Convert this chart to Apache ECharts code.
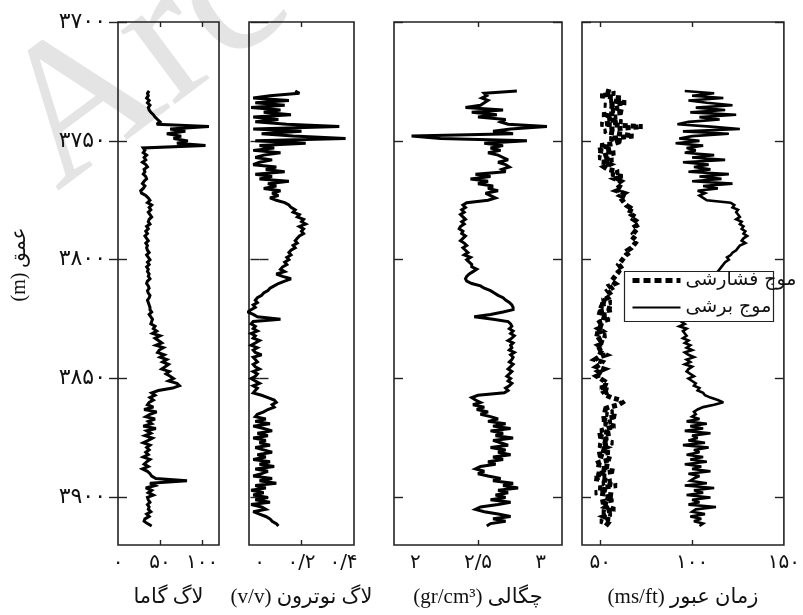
<!DOCTYPE html>
<html><head><meta charset="utf-8">
<script src="https://cdn.jsdelivr.net/npm/echarts@6/dist/echarts.min.js"></script>
<style>html,body{margin:0;padding:0;background:#fff}#c{width:803px;height:615px}</style>
</head><body><div id="c"></div>
<script>
// ---- data (depth in m, sampled every 1 m) ----
const depth = [
3729,3730,3731,3732,3733,3734,3735,3736,3737,3738,
3739,3740,3741,3742,3743,3744,3745,3746,3747,3748,
3749,3750,3751,3752,3753,3754,3755,3756,3757,3758,
3759,3760,3761,3762,3763,3764,3765,3766,3767,3768,
3769,3770,3771,3772,3773,3774,3775,3776,3777,3778,
3779,3780,3781,3782,3783,3784,3785,3786,3787,3788,
3789,3790,3791,3792,3793,3794,3795,3796,3797,3798,
3799,3800,3801,3802,3803,3804,3805,3806,3807,3808,
3809,3810,3811,3812,3813,3814,3815,3816,3817,3818,
3819,3820,3821,3822,3823,3824,3825,3826,3827,3828,
3829,3830,3831,3832,3833,3834,3835,3836,3837,3838,
3839,3840,3841,3842,3843,3844,3845,3846,3847,3848,
3849,3850,3851,3852,3853,3854,3855,3856,3857,3858,
3859,3860,3861,3862,3863,3864,3865,3866,3867,3868,
3869,3870,3871,3872,3873,3874,3875,3876,3877,3878,
3879,3880,3881,3882,3883,3884,3885,3886,3887,3888,
3889,3890,3891,3892,3893,3894,3895,3896,3897,3898,
3899,3900,3901,3902,3903,3904,3905,3906,3907,3908,
3909,3910,3911,3912];

const gammaRay = [
37,35,36,34,37,35,38,36,37,39,
42,44,47,50,46,108,62,80,58,75,66,83,70,104,30,
32,30,34,31,33,29,33,35,31,32,30,33,34,31,29,32,30,
27,28,33,
36,38,35,40,37,39,36,38,40,37,36,38,
34,36,33,35,32,34,36,33,35,34,
35,37,34,36,38,35,37,34,36,35,37,36,38,35,34,36,37,35,36,38,37,35,36,37,38,
38,40,37,39,41,40,39,
44,
42,46,41,50,44,48,52,45,54,49,47,
55,50,58,53,60,56,52,61,57,
62,66,60,70,73,65,48,
40,44,38,42,37,
35,42,31,46,38,33,44,36,40,30,45,34,39,32,41,36,30,38,34,37,
33,36,30,38,34,31,36,29,35,38,
40,45,82,
38,44,33,40,36,42,35,
36,38,35,37,36,39,34,37,
32,31,35,40];

const neutron = [
0.17,0.19,0.05,
-0.03,0.14,-0.02,0.12,-0.04,0.10,0.02,0.15,-0.03,0.09,-0.02,0.13,
0.38,-0.03,0.20,0.01,0.16,0.41,-0.02,0.22,
0.0,0.07,-0.03,0.10,0.02,-0.02,0.06,0.0,
-0.03,0.08,0.03,0.12,-0.02,0.06,0.0,0.14,
0.04,0.08,0.02,0.10,0.06,0.09,0.05,
0.08,0.12,0.14,
0.15,0.17,0.16,0.19,0.18,0.21,0.20,0.22,0.19,0.21,0.20,0.21,
0.19,0.18,0.17,0.18,0.16,0.17,0.15,
0.14,0.15,0.13,0.14,0.12,0.13,0.11,
0.10,0.12,0.08,0.11,0.15,
0.12,0.09,0.07,0.05,0.04,0.02,0.01,
-0.01,-0.02,-0.01,-0.03,-0.02,-0.04,-0.055,
-0.03,-0.01,0.10,
-0.03,-0.04,-0.02,-0.03,-0.01,-0.04,-0.02,-0.03,0.0,-0.02,-0.04,-0.01,-0.03,-0.02,0.01,-0.03,-0.02,
-0.01,-0.03,-0.02,0.0,-0.03,-0.01,-0.02,-0.04,-0.02,0.0,-0.03,-0.01,-0.02,-0.03,
0.01,0.04,0.07,0.08,0.06,0.07,0.04,0.02,
-0.01,-0.02,
0.03,-0.02,0.05,-0.03,0.02,0.06,-0.01,0.04,-0.03,0.03,0.0,0.05,-0.02,0.02,0.06,-0.01,
0.03,-0.03,0.05,0.0,0.07,-0.02,0.04,0.01,-0.03,0.06,0.0,0.08,-0.02,0.03,
-0.04,0.02,-0.03,0.04,-0.02,0.05,-0.04,0.01,0.03,-0.03,
0.0,0.03,0.05,0.06,0.08,0.09];

const density = [
2.81,2.55,
2.57,2.53,2.58,2.55,2.52,
2.40,2.70,2.45,2.65,2.50,
2.72,2.68,2.74,3.05,2.76,2.62,2.78,1.97,2.20,2.89,
2.55,2.70,2.60,2.68,2.58,2.66,
2.70,2.74,2.66,2.72,2.75,2.69,2.72,
2.48,2.60,2.44,2.58,2.50,
2.62,2.58,2.66,2.56,2.60,2.64,2.58,
2.41,2.38,2.40,2.37,2.39,2.36,2.38,2.40,2.37,2.39,2.36,2.35,2.38,2.37,2.40,2.38,2.36,2.39,2.41,2.38,
2.40,2.42,2.39,2.44,2.41,2.43,2.45,2.45,2.49,2.46,2.43,2.41,2.40,
2.41,2.45,
2.52,2.55,2.60,2.63,2.66,2.70,2.72,2.75,2.77,2.78,
2.78,2.70,2.60,2.47,2.62,2.74,2.76,
2.77,2.75,2.78,2.76,2.79,2.77,2.74,2.78,2.76,2.77,2.75,2.79,2.76,2.78,2.77,
2.75,2.78,2.76,2.74,2.77,2.75,2.73,2.76,2.74,2.77,2.75,2.72,2.74,2.71,
2.50,2.45,2.48,
2.52,2.46,2.55,2.49,2.58,2.52,2.60,
2.66,2.58,2.72,2.62,2.76,2.60,2.70,2.64,2.78,2.62,2.68,2.74,2.60,2.72,2.66,2.76,2.62,2.70,2.58,2.64,
2.52,2.48,2.55,2.50,2.58,
2.68,2.62,2.78,2.70,2.82,2.66,2.74,
2.64,2.72,2.60,2.76,2.66,
2.52,2.48,2.55,
2.66,2.76,2.62,2.72,2.60,2.57];

const compressional = [
53,58,50,62,55,64,52,60,56,63,
51,59,54,62,50,73,57,
52,60,68,55,62,58,
50,56,48,58,53,49,57,51,55,52,
54,60,56,62,58,61,59,
60,62,59,63,61,64,62,63,
64,66,65,68,67,69,68,70,71,69,70,
69,68,69,68,67,69,68,
67,65,66,64,63,62,
61,60,61,59,60,59,
58,57,56,58,55,56,54,55,53,
54,51,56,49,52,57,48,53,50,55,
50,48,52,49,51,47,53,50,48,52,49,51,48,50,53,49,47,51,50,48,52,49,51,48,50,52,
51,54,50,55,52,53,56,
61,62,60,
55,51,57,53,59,50,56,52,58,54,
50,56,48,54,51,57,49,53,50,55,48,52,56,50,
47,55,50,58,48,53,46,56,51,59,49,54,47,57,
52,57,50,55,53,58,51,56,52,55,50,54,53];

const shear = [
96,112,100,117,98,108,122,
102,118,99,124,104,115,98,
92,110,126,95,120,100,
93,104,91,106,97,102,
96,112,100,118,95,109,101,
110,98,120,104,116,100,122,106,114,
103,107,104,106,108,
121,123,122,125,124,
125,126,124,127,126,128,127,129,128,130,
128,127,129,126,125,124,122,
121,119,120,118,117,116,
115,114,113,112,111,110,109,108,
106,104,103,101,100,99,98,97,96,97,96,95,96,
95,94,96,93,97,95,96,
97,95,98,96,99,97,100,96,98,101,97,99,96,100,98,97,99,101,98,
100,102,101,104,103,106,107,
110,114,117,112,106,
103,101,102,100,
104,97,108,99,106,96,110,100,103,98,107,95,109,101,104,97,106,99,108,96,105,100,110,98,104,101,
99,108,96,112,101,106,97,110,100,104,98,113,102,
100,107,99,105,101,106,104];

const depthTicks = [3700, 3750, 3800, 3850, 3900];
const gammaTicks = [50, 100],   gammaLabels = [0, 50, 100];
const neutronTicks = [0.2],     neutronLabels = [0, 0.2, 0.4];
const densityTicks = [2.5],     densityLabels = [2, 2.5, 3];
const transitTicks = [50, 100], transitLabels = [50, 100, 150];
const trackTitles = ['لاگ گاما', '(v/v) لاگ نوترون', '(gr/cm³) چگالی', '(ms/ft) زمان عبور'];
const depthTitle = '(m) عمق';
const waveNames = ['موج فشارشی', 'موج برشی'];
const watermark = 'Arc';

// ---- chart ----
function fa(v) {
  return String(v).replace(/\./g, '/').replace(/[0-9]/g, d => '۰۱۲۳۴۵۶۷۸۹'[d]);
}
const INK = '#111';
const serifFa = "'Liberation Serif','DejaVu Sans'";
const tracks = [
  {left: 118, width: 101, min: 0,     max: 120,  ticks: gammaTicks,   labels: gammaLabels},
  {left: 249, width: 105, min: -0.05, max: 0.45, ticks: neutronTicks, labels: neutronLabels},
  {left: 394, width: 168, min: 1.83,  max: 3.17, ticks: densityTicks, labels: densityLabels},
  {left: 582, width: 208, min: 40,    max: 150,  ticks: transitTicks, labels: transitLabels}
];
const TOP = 22, HEIGHT = 523;

const grid = [], xAxis = [], yAxis = [];
tracks.forEach((t, i) => {
  grid.push({left: t.left, top: TOP, width: t.width, height: HEIGHT, show: true, z: 1,
             borderColor: '#222', borderWidth: 1.6, backgroundColor: 'transparent'});
  const tick = {show: true, inside: true, length: 5, customValues: t.ticks,
                lineStyle: {color: '#222', width: 1.4}};
  xAxis.push({
    type: 'value', gridIndex: i, position: 'bottom', min: t.min, max: t.max,
    axisLine: {show: false}, splitLine: {show: false}, axisTick: tick,
    axisLabel: {show: true, customValues: t.labels, formatter: fa, margin: 8,
                fontSize: 20, color: INK, fontFamily: 'DejaVu Sans'},
    name: trackTitles[i], nameLocation: 'middle', nameGap: 42,
    nameTextStyle: {fontSize: 21, fontFamily: serifFa, color: INK}
  });
  xAxis.push({
    type: 'value', gridIndex: i, position: 'top', min: t.min, max: t.max,
    axisLine: {show: false}, splitLine: {show: false}, axisTick: tick,
    axisLabel: {show: false}
  });
  const ytick = {show: true, inside: true, length: 9, customValues: depthTicks,
                 lineStyle: {color: '#222', width: 1.4}};
  yAxis.push({
    type: 'value', gridIndex: i, position: 'left', inverse: true, min: 3700, max: 3920,
    axisLine: {show: false}, splitLine: {show: false}, axisTick: ytick,
    axisLabel: i === 0 ? {show: true, customValues: depthTicks, formatter: fa, margin: 12,
                fontSize: 22, color: INK, fontFamily: 'DejaVu Sans'} : {show: false},
    name: i === 0 ? depthTitle : '', nameLocation: 'middle', nameGap: 88, nameRotate: 90,
    nameTextStyle: {fontSize: 20, fontFamily: serifFa, color: INK, padding: [0, 0, 0, 38]}
  });
  yAxis.push({
    type: 'value', gridIndex: i, position: 'right', inverse: true, min: 3700, max: 3920,
    axisLine: {show: false}, splitLine: {show: false}, axisTick: ytick,
    axisLabel: {show: false}
  });
});

function track(values, i, name, style) {
  return {
    type: 'line', name: name, xAxisIndex: 2 * i, yAxisIndex: 2 * i,
    data: depth.map((d, k) => [values[k], d]),
    symbol: 'none', showSymbol: false, animation: false, z: 2,
    itemStyle: {color: '#000'},
    lineStyle: Object.assign({color: '#000', width: 3, join: 'miter', miterLimit: 3}, style)
  };
}

const option = {
  backgroundColor: '#fff',
  animation: false,
  grid, xAxis, yAxis,
  legend: {
    data: [
      {name: waveNames[0], lineStyle: {color: '#000', width: 5, type: [7, 4]}},
      {name: waveNames[1], lineStyle: {color: '#000', width: 2}}
    ],
    itemStyle: {opacity: 0},
    orient: 'vertical', left: 630, top: 271, itemWidth: 48, itemHeight: 18, itemGap: 8,
    padding: 0, z: 5,
    textStyle: {fontSize: 19, fontFamily: 'DejaVu Sans', color: INK}
  },
  graphic: {elements: [
    {type: 'text', x: 26, y: 150, rotation: 0.64, z: -10, zlevel: 0, silent: true,
     style: {text: watermark, fontSize: 198, fontFamily: 'Liberation Serif', fill: '#e4e4e4',
             align: 'left', verticalAlign: 'middle'}},
    {type: 'rect', z: 4, silent: true,
     shape: {x: 624.5, y: 271.5, width: 149, height: 50},
     style: {fill: '#fff', stroke: '#222', lineWidth: 1.2}}
  ]},
  series: [
    track(gammaRay, 0, 'gamma', {}),
    track(neutron, 1, 'neutron', {}),
    track(density, 2, 'density', {}),
    track(compressional, 3, waveNames[0], {width: 5, type: [5, 3]}),
    track(shear, 3, waveNames[1], {width: 2.6})
  ]
};
const chart = echarts.init(document.getElementById('c'), null, {renderer: 'canvas'});
chart.setOption(option);
</script>
</body></html>
